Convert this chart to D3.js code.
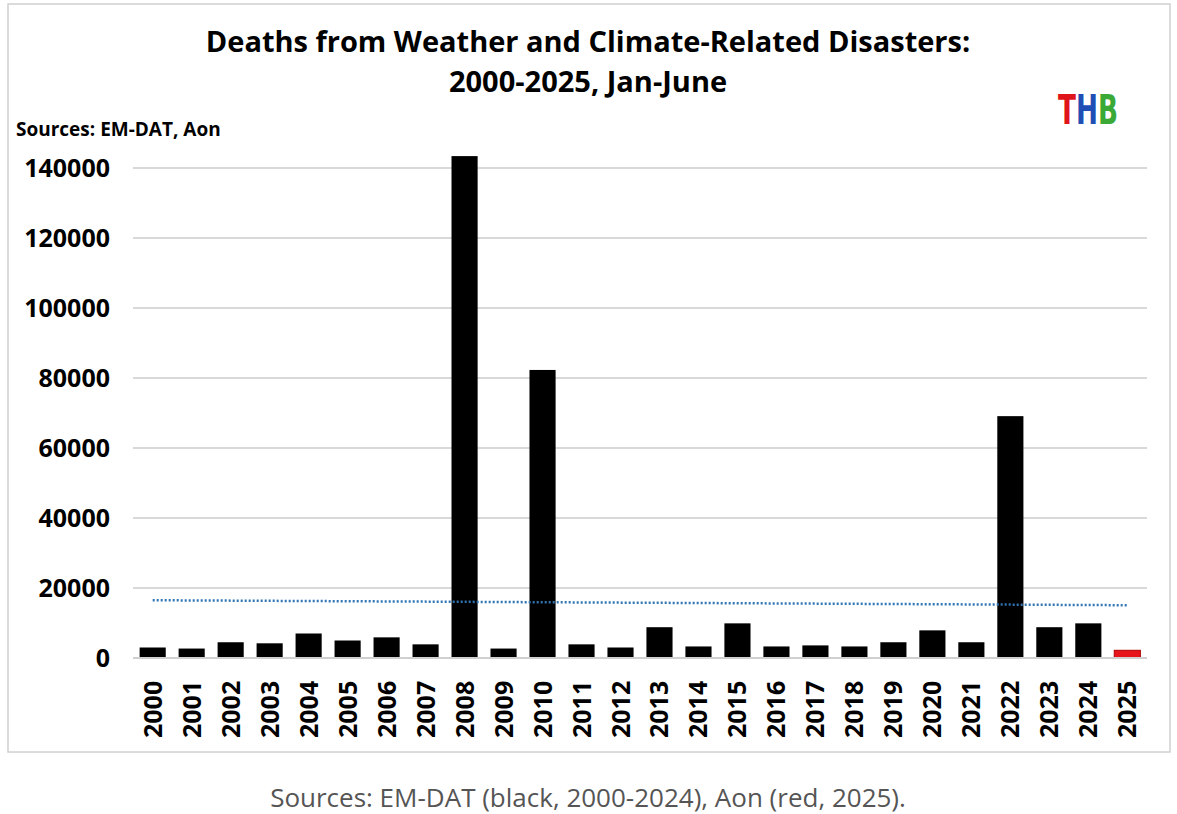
<!DOCTYPE html>
<html>
<head>
<meta charset="utf-8">
<script src="https://d3js.org/d3.v7.min.js"></script>
<style>
  body { margin: 0; background: #fff; }
</style>
</head>
<body>
<svg id="chart" width="1177" height="814"></svg>
<script>
var years = d3.range(2000, 2026).map(String);
var deaths = [3000, 2700, 4500, 4200, 7000, 5000, 5900, 3900, 143400, 2700,
  82300, 3900, 3000, 8800, 3300, 9900, 3300, 3600, 3300, 4500,
  7900, 4500, 69100, 8800, 9900, 2200];
var yTicks = [0, 20000, 40000, 60000, 80000, 100000, 120000, 140000];

var svg = d3.select("#chart");
var font = "'Open Sans', 'Noto Sans', sans-serif";
var m = {left: 133, right: 1147, top: 168, bottom: 658};

svg.append("rect").attr("x", 8).attr("y", 4).attr("width", 1162).attr("height", 748)
  .attr("fill", "#fff").attr("stroke", "#d0d0d0").attr("stroke-width", 1.5);

var x = d3.scaleBand().domain(years).range([m.left, m.right]).paddingInner(0.33).paddingOuter(0.17);
var y = d3.scaleLinear().domain([0, 140000]).range([m.bottom, m.top]);

// grid
svg.append("g").selectAll("line").data(yTicks.slice(1)).join("line")
  .attr("x1", m.left).attr("x2", m.right)
  .attr("y1", d => y(d)).attr("y2", d => y(d))
  .attr("stroke", "#d9d9d9").attr("stroke-width", 2);

// y labels
svg.append("g").selectAll("text").data(yTicks).join("text")
  .attr("x", 110).attr("y", d => y(d) + 9)
  .attr("text-anchor", "end").attr("font-family", font).attr("font-weight", 700)
  .attr("font-size", 25).text(d => d);

// bars
svg.append("g").selectAll("rect").data(deaths).join("rect")
  .attr("x", (d, i) => x(years[i])).attr("width", x.bandwidth())
  .attr("y", d => y(d)).attr("height", d => y(0) - y(d))
  .attr("fill", (d, i) => years[i] === "2025" ? "#e8141b" : "#000")
  .attr("stroke", (d, i) => years[i] === "2025" ? "#b00000" : "none");

// baseline
svg.append("line").attr("x1", m.left).attr("x2", m.right)
  .attr("y1", y(0)).attr("y2", y(0)).attr("stroke", "#d0d0d0").attr("stroke-width", 2);

// linear trend (least squares)
var n = deaths.length, idx = d3.range(n);
var mx = d3.mean(idx), my = d3.mean(deaths);
var slope = d3.sum(idx, i => (i - mx) * (deaths[i] - my)) / d3.sum(idx, i => (i - mx) * (i - mx));
var icpt = my - slope * mx;
svg.append("line")
  .attr("x1", x(years[0]) + x.bandwidth() / 2).attr("x2", x(years[n - 1]) + x.bandwidth() / 2)
  .attr("y1", y(icpt)).attr("y2", y(icpt + slope * (n - 1)))
  .attr("stroke", "#2e75b6").attr("stroke-width", 2.5).attr("stroke-dasharray", "2,2");

// x labels
svg.append("g").selectAll("text").data(years).join("text")
  .attr("transform", d => "translate(" + (x(d) + x.bandwidth() / 2 + 9) + ",738) rotate(-90)")
  .attr("font-family", font).attr("font-weight", 700).attr("font-size", 25).text(d => d);

// titles
svg.append("text").attr("x", 588).attr("y", 52).attr("text-anchor", "middle")
  .attr("font-family", font).attr("font-weight", 700).attr("font-size", 29)
  .text("Deaths from Weather and Climate-Related Disasters:");
svg.append("text").attr("x", 588).attr("y", 92).attr("text-anchor", "middle")
  .attr("font-family", font).attr("font-weight", 700).attr("font-size", 29)
  .text("2000-2025, Jan-June");
svg.append("text").attr("x", 16).attr("y", 136)
  .attr("font-family", font).attr("font-weight", 700).attr("font-size", 19)
  .text("Sources: EM-DAT, Aon");

// logo
var logo = svg.append("text").attr("x", 1058).attr("y", 124)
  .attr("font-family", "'DejaVu Sans Condensed', 'DejaVu Sans', sans-serif").attr("font-weight", 700)
  .attr("font-size", 40).attr("textLength", 60).attr("lengthAdjust", "spacingAndGlyphs");
logo.append("tspan").attr("fill", "#e0141b").text("T");
logo.append("tspan").attr("fill", "#1f4fb5").text("H");
logo.append("tspan").attr("fill", "#3aa935").text("B");

// caption
svg.append("text").attr("x", 588).attr("y", 807).attr("text-anchor", "middle")
  .attr("font-family", font).attr("font-size", 26).attr("fill", "#555")
  .text("Sources: EM-DAT (black, 2000-2024), Aon (red, 2025).");
</script>
</body>
</html>
